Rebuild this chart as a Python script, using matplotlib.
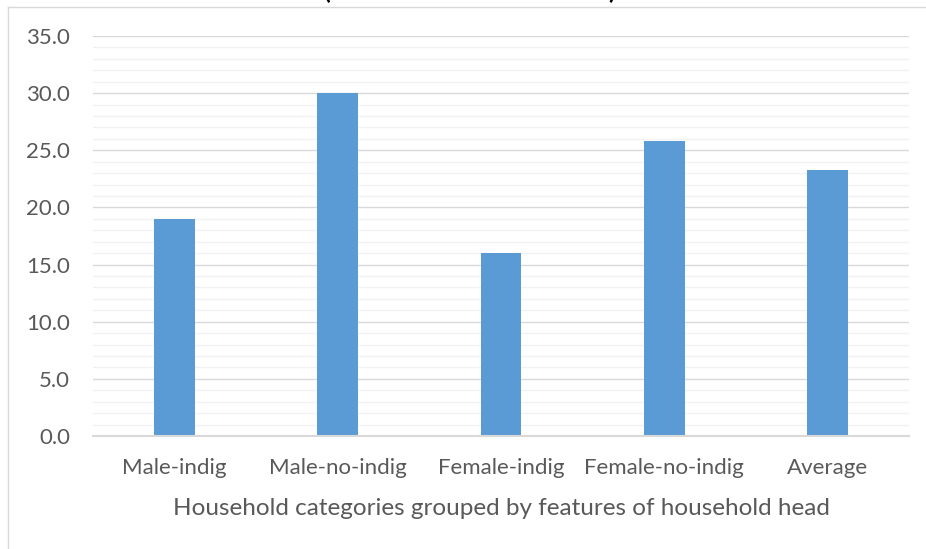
import matplotlib
matplotlib.use("Agg")
import matplotlib.pyplot as plt
from matplotlib.lines import Line2D
import numpy as np

categories = ["Male-indig", "Male-no-indig", "Female-indig", "Female-no-indig", "Average"]
values = [19.0, 30.0, 16.0, 25.8, 23.3]
y_ticks = [0, 5, 10, 15, 20, 25, 30, 35]
x_label = "Household categories grouped by features of household head"

plt.rcParams['font.family'] = ['Lato', 'DejaVu Sans']
W, H = 926, 549
fig = plt.figure(figsize=(W/100, H/100), dpi=100)
ax = fig.add_axes([93/W, 1-436/H, (909-93)/W, 400/H])

x = np.arange(len(categories))
ax.bar(x, values, width=0.25, color="#5B9BD5", zorder=3)
ax.set_xlim(-0.5, len(categories)-0.5)
ax.set_ylim(0, 35)

ax.set_yticks(y_ticks)
ax.set_yticklabels([f"{v:.1f}" for v in y_ticks])
ax.set_yticks(np.arange(0, 35, 1), minor=True)
ax.grid(axis='y', which='major', color="#D9D9D9", linewidth=1.0, zorder=0)
ax.grid(axis='y', which='minor', color="#F2F2F2", linewidth=1.0, zorder=0)
ax.tick_params(axis='y', which='both', length=0, pad=16.5, labelsize=16, labelcolor="#595959")
ax.set_xticks(x)
ax.set_xticklabels(categories)
ax.tick_params(axis='x', length=0, pad=16, labelsize=16, labelcolor="#595959")
ax.set_xlabel(x_label, fontsize=17.5, color="#595959", labelpad=14)

for s in ['top', 'right', 'left']:
    ax.spines[s].set_visible(False)
ax.spines['bottom'].set_color("#D9D9D9")
ax.spines['bottom'].set_linewidth(1.5)
ax.spines['bottom'].set_zorder(4)

# outer chart frame (top and left edges visible)
fig.add_artist(Line2D([8/W, 1], [1-7/H, 1-7/H], transform=fig.transFigure, color="#D9D9D9", linewidth=1))
fig.add_artist(Line2D([8/W, 8/W], [0, 1-7/H], transform=fig.transFigure, color="#D9D9D9", linewidth=1))

# clipped title (only bottoms of parentheses visible, as in the reference)
fig.text(327/W, 1+1/H, "(", fontsize=18, fontweight='bold', color="#000000", ha='center', va='baseline')
fig.text(612/W, 1+1/H, ")", fontsize=18, fontweight='bold', color="#000000", ha='center', va='baseline')

fig.savefig("out.png", dpi=100)
